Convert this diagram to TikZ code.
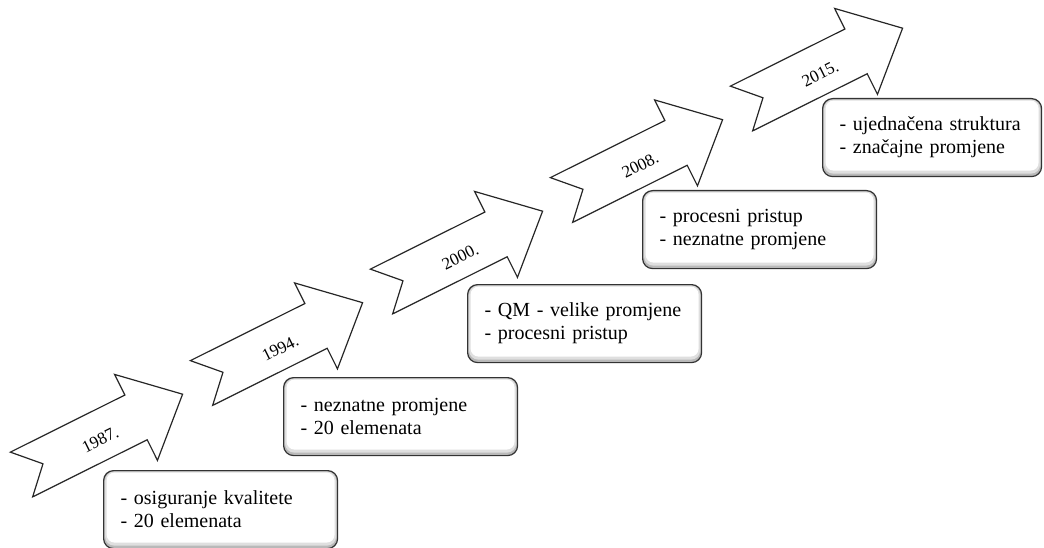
\documentclass[tikz,border=0pt]{standalone}
\usepackage{fontspec}
\setmainfont{Liberation Serif}
\usepackage{tikz}
\tikzset{
    arrowline/.style={draw=black!85, line width=1.2pt, fill=white, line join=miter},
    yearlabel/.style={font=\fontsize{17}{17}\selectfont, inner sep=0pt, transform shape},
    pics/timearrow/.style={
        code={
            \draw[arrowline] (0,25) -- (128,25) -- (128,48) -- (180,0) -- (128,-48)
                -- (128,-25) -- (0,-25) -- (24,0) -- cycle;
            \node[yearlabel] (-year) at (86,4) {#1};
        }
    },
    notebox/.style={
        anchor=north west, draw=black!80, line width=1.2pt, rounded corners=10pt,
        fill=white, minimum height=78pt, text width=200pt, inner xsep=17pt,
        align=left, font=\fontsize{20}{23}\selectfont,
        path picture={
            \fill[gray!55] (path picture bounding box.south west) rectangle (path picture bounding box.north east);
            \fill[gray!25, rounded corners=9pt] ([shift={(1.5pt,3pt)}]path picture bounding box.south west) rectangle ([shift={(-1.5pt,-1pt)}]path picture bounding box.north east);
            \fill[white, rounded corners=8pt] ([shift={(3pt,6pt)}]path picture bounding box.south west) rectangle ([shift={(-3pt,-2pt)}]path picture bounding box.north east);
        }
    },
}

\begin{document}
\begin{tikzpicture}[x=1pt, y=-1pt]
\useasboundingbox (0,0) rectangle (1044,548);

% arrows of the timeline
\pic[rotate=26.5] (a1) at (21.5,474.5) {timearrow=1987.};
\pic[rotate=26.5] (a2) at (201.5,383) {timearrow=1994.};
\pic[rotate=26.5] (a3) at (381.5,291.5) {timearrow=2000.};
\pic[rotate=26.5] (a4) at (561.5,200) {timearrow=2008.};
\pic[rotate=26.5] (a5) at (741.5,108.5) {timearrow=2015.};

% notes below the arrows
\node[notebox] (b1) at (103,470) {- osiguranje kvalitete\\- 20 elemenata};
\node[notebox] (b2) at (283,377) {- neznatne promjene\\- 20 elemenata};
\node[notebox] (b3) at (467,284) {- QM - velike promjene\\- procesni pristup};
\node[notebox] (b4) at (642,190) {- procesni pristup\\- neznatne promjene};
\node[notebox, text width=185pt] (b5) at (822,98) {- ujednačena struktura\\- značajne promjene};
\end{tikzpicture}
\end{document}
